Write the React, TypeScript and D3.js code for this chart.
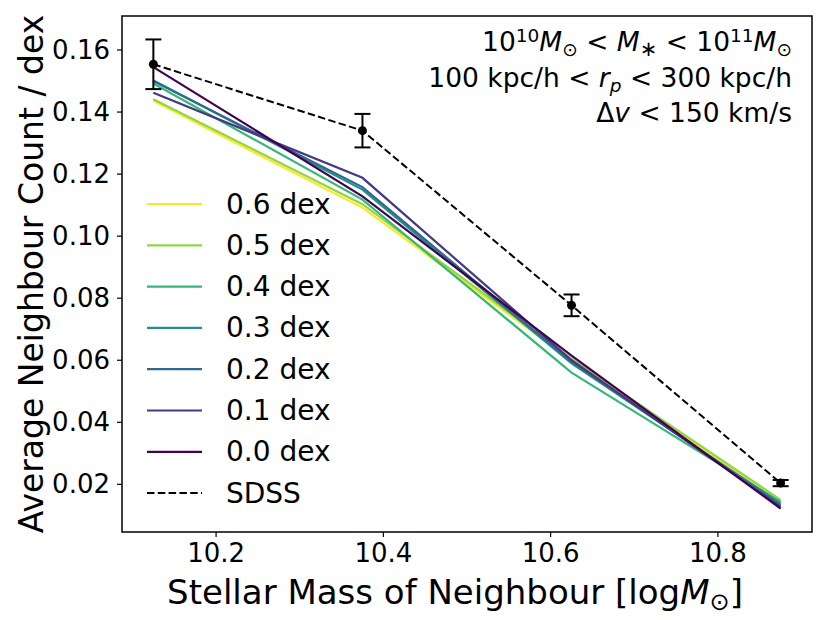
import * as d3 from "d3";

// stellar mass bins of the neighbour (log Msun)
const massBins = [10.125, 10.375, 10.625, 10.875];

// SDSS measurement with error bars
const sdssCount = [0.1554, 0.134, 0.0777, 0.0204];
const sdssErr = [0.008, 0.0054, 0.0035, 0.001];

// model curves for each scatter value
const scatterLabels = ["0.0 dex", "0.1 dex", "0.2 dex", "0.3 dex", "0.4 dex", "0.5 dex", "0.6 dex"];
const dex00 = [0.1545, 0.1128, 0.0615, 0.0122];
const dex01 = [0.1462, 0.1188, 0.06, 0.0127];
const dex02 = [0.15, 0.1158, 0.0595, 0.0132];
const dex03 = [0.1502, 0.115, 0.059, 0.0138];
const dex04 = [0.1492, 0.1118, 0.056, 0.0143];
const dex05 = [0.1441, 0.1103, 0.0605, 0.015];
const dex06 = [0.1436, 0.1092, 0.06, 0.0145];

const xTicks = [10.2, 10.4, 10.6, 10.8];
const yTicks = [0.02, 0.04, 0.06, 0.08, 0.1, 0.12, 0.14, 0.16];

const W = 830;
const H = 620;
const margin = { top: 16, right: 18, bottom: 88, left: 122 };
const FONT = "DejaVu Sans, sans-serif";

export default function App() {
  const series = [dex00, dex01, dex02, dex03, dex04, dex05, dex06];

  // matplotlib-style 5% padding around the data
  const xExt = d3.extent(massBins) as [number, number];
  const xPad = (xExt[1] - xExt[0]) * 0.05;
  const allY = [
    ...series.flat(),
    ...sdssCount.map((v, i) => v + sdssErr[i]),
    ...sdssCount.map((v, i) => v - sdssErr[i]),
  ];
  const yExt = d3.extent(allY) as [number, number];
  const yPad = (yExt[1] - yExt[0]) * 0.05;

  const x = d3
    .scaleLinear()
    .domain([xExt[0] - xPad, xExt[1] + xPad])
    .range([margin.left, W - margin.right]);
  const y = d3
    .scaleLinear()
    .domain([yExt[0] - yPad, yExt[1] + yPad])
    .range([H - margin.bottom, margin.top]);

  const line = d3
    .line<number>()
    .x((_, i) => x(massBins[i]))
    .y((d) => y(d));

  const color = (i: number) => d3.interpolateViridis(i / 6);

  const x0 = margin.left;
  const x1 = W - margin.right;
  const y0 = H - margin.bottom;
  const y1 = margin.top;

  // legend rows: 0.6 dex at top down to 0.0 dex, then SDSS
  const legendRows = [6, 5, 4, 3, 2, 1, 0];
  const legTop = 204;
  const legStep = 41.3;

  return (
    <svg
      width={W}
      height={H}
      style={{ position: "absolute", left: 0, top: 0, background: "#fff" }}
      fontFamily={FONT}
    >
      {/* model lines, drawn 0.6 first so 0.0 sits on top */}
      {[6, 5, 4, 3, 2, 1, 0].map((i) => (
        <path
          key={i}
          d={line(series[i]) ?? ""}
          fill="none"
          stroke={color(i)}
          strokeWidth={2.2}
        />
      ))}

      {/* SDSS */}
      <path
        d={line(sdssCount) ?? ""}
        fill="none"
        stroke="#000"
        strokeWidth={2}
        strokeDasharray="7.5,3.3"
      />
      {sdssCount.map((v, i) => {
        const cx = x(massBins[i]);
        const top = y(v + sdssErr[i]);
        const bot = y(v - sdssErr[i]);
        return (
          <g key={i} stroke="#000" strokeWidth={2}>
            <line x1={cx} x2={cx} y1={top} y2={bot} />
            <line x1={cx - 8} x2={cx + 8} y1={top} y2={top} />
            <line x1={cx - 8} x2={cx + 8} y1={bot} y2={bot} />
            <circle cx={cx} cy={y(v)} r={4.5} fill="#000" stroke="none" />
          </g>
        );
      })}

      {/* frame */}
      <rect x={x0} y={y1} width={x1 - x0} height={y0 - y1} fill="none" stroke="#000" strokeWidth={1.5} />

      {/* x axis */}
      {xTicks.map((t) => (
        <g key={t}>
          <line x1={x(t)} x2={x(t)} y1={y0} y2={y0 + 5} stroke="#000" strokeWidth={1.2} />
          <text x={x(t)} y={y0 + 30} textAnchor="middle" fontSize={26}>
            {d3.format(".1f")(t)}
          </text>
        </g>
      ))}

      {/* y axis */}
      {yTicks.map((t) => (
        <g key={t}>
          <line x1={x0 - 5} x2={x0} y1={y(t)} y2={y(t)} stroke="#000" strokeWidth={1.2} />
          <text x={x0 - 12} y={y(t)} textAnchor="end" dominantBaseline="central" fontSize={26}>
            {d3.format(".2f")(t)}
          </text>
        </g>
      ))}

      {/* axis labels */}
      <text x={455} y={604} textAnchor="middle" fontSize={34}>
        Stellar Mass of Neighbour [log
        <tspan fontStyle="italic">M</tspan>
        <tspan fontSize={24} baselineShift="-25%">⊙</tspan>]
      </text>
      <text
        transform={`translate(43,${(y0 + y1) / 2}) rotate(-90)`}
        textAnchor="middle"
        fontSize={33}
      >
        Average Neighbour Count / dex
      </text>

      {/* legend */}
      {legendRows.map((i, r) => (
        <g key={i}>
          <line
            x1={147}
            x2={202}
            y1={legTop + r * legStep}
            y2={legTop + r * legStep}
            stroke={color(i)}
            strokeWidth={2.2}
          />
          <text x={226} y={legTop + r * legStep} dominantBaseline="central" fontSize={28}>
            {scatterLabels[i]}
          </text>
        </g>
      ))}
      <line
        x1={147}
        x2={202}
        y1={legTop + 7 * legStep}
        y2={legTop + 7 * legStep}
        stroke="#000"
        strokeWidth={2}
        strokeDasharray="7.5,3.3"
      />
      <text x={226} y={legTop + 7 * legStep} dominantBaseline="central" fontSize={28}>
        SDSS
      </text>

      {/* selection annotation */}
      <g fontSize={26.5} textAnchor="end">
        <text x={792} y={51}>
          10<tspan fontSize={18.5} baselineShift="45%">10</tspan>
          <tspan fontStyle="italic">M</tspan>
          <tspan fontSize={18.5} baselineShift="-25%">⊙</tspan>
          <tspan> &lt; </tspan>
          <tspan fontStyle="italic">M</tspan>
          <tspan fontSize={21} baselineShift="-25%">∗</tspan>
          <tspan> &lt; 10</tspan>
          <tspan fontSize={18.5} baselineShift="45%">11</tspan>
          <tspan fontStyle="italic">M</tspan>
          <tspan fontSize={18.5} baselineShift="-25%">⊙</tspan>
        </text>
        <text x={792} y={87}>
          100 kpc/h &lt; <tspan fontStyle="italic">r</tspan>
          <tspan fontSize={18.5} fontStyle="italic" baselineShift="-25%">p</tspan>
          <tspan> &lt; 300 kpc/h</tspan>
        </text>
        <text x={792} y={122}>
          Δ<tspan fontStyle="italic">v</tspan>
          <tspan> &lt; 150 km/s</tspan>
        </text>
      </g>
    </svg>
  );
}
